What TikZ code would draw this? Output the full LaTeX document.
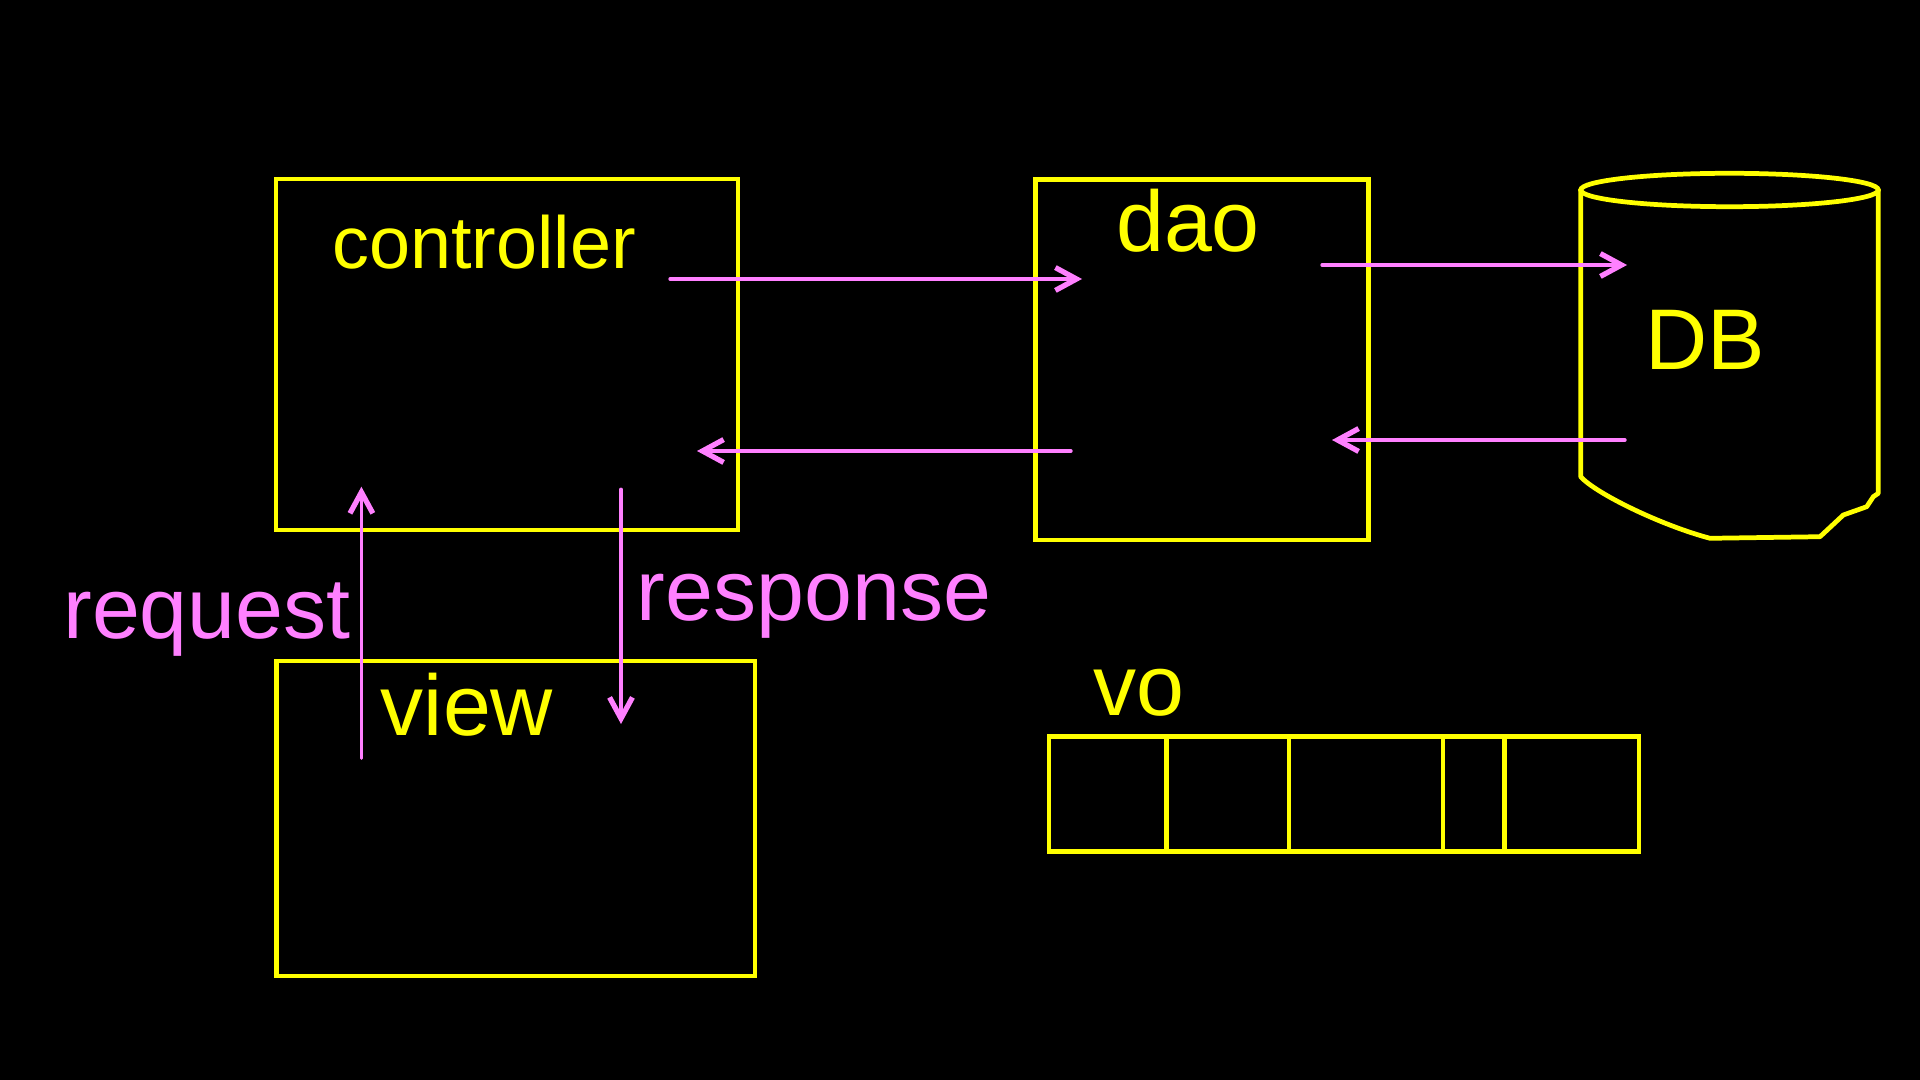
\documentclass[tikz,border=0pt]{standalone}
\usepackage{fontspec}
\setmainfont{Liberation Sans}
\usetikzlibrary{arrows.meta, positioning}
\definecolor{hlyellow}{RGB}{255,255,0}
\definecolor{hlpink}{RGB}{255,128,255}

\begin{document}
\begin{tikzpicture}[>={Straight Barb[length=6pt,width=6.5pt,line width=1.5pt]}, line cap=round]
 \tikzstyle{box} = [draw=hlyellow, line width=1.35pt, inner sep=0pt, outer sep=0pt]
 \tikzstyle{cell} = [box, minimum height=1.154cm]
 \tikzstyle{lbl} = [text=hlyellow, anchor=base, inner sep=0pt, font=\fontsize{24.5}{29}\selectfont]
 \tikzstyle{plbl} = [lbl, text=hlpink]
 \tikzstyle{flow} = [->, draw=hlpink, line width=0.95pt]
   \fill[black] (0,0) rectangle (19.2,-10.8);

   \node[box, minimum width=4.62cm, minimum height=3.51cm] (ctrl) at (5.07,-3.545) {};
   \node[box, minimum width=3.326cm, minimum height=3.607cm] (dao) at (12.02,-3.597) {};
   \node[box, minimum width=4.783cm, minimum height=3.15cm] (view) at (5.158,-8.185) {};

   % database drawn by hand, not a node shape
   \draw[box] (17.295,-1.90) ellipse [x radius=1.488, y radius=0.167];
   \draw[box, line join=round] (15.807,-1.90) -- (15.807,-4.767)
     .. controls (15.95,-4.93) and (16.6,-5.25) .. (17.10,-5.383)
     -- (18.20,-5.367) -- (18.433,-5.15) -- (18.667,-5.067)
     -- (18.733,-4.967) -- (18.783,-4.933) -- (18.783,-1.90);

   \node[cell, minimum width=1.173cm, anchor=north west] (vo1) at (10.49,-7.363) {};
   \node[cell, minimum width=1.227cm] (vo2) [right=0pt of vo1] {};
   \node[cell, minimum width=1.539cm] (vo3) [right=0pt of vo2] {};
   \node[cell, minimum width=0.618cm] (vo4) [right=0pt of vo3] {};
   \node[cell, minimum width=1.343cm] (vo5) [right=0pt of vo4] {};

   \node[lbl, font=\fontsize{21}{25}\selectfont] (ctrl-lbl) at (4.84,-2.683) {controller};
   \node[lbl] (dao-lbl) at (11.88,-2.517) {dao};
   \node[lbl] (db-lbl) at (17.05,-3.70) {DB};
   \node[lbl] (view-lbl) at (4.67,-7.35) {view};
   \node[lbl] (vo-lbl) at (11.39,-7.15) {vo};
   \node[plbl] (req-lbl) at (2.07,-6.383) {request};
   \node[plbl] (resp-lbl) at (8.14,-6.20) {response};

   % free ends of the arrows sit inside the boxes
   \coordinate (c-out) at (6.70,-2.79);
   \coordinate (d-in) at (10.82,-2.79);
   \coordinate (d-out) at (10.71,-4.51);
   \coordinate (c-in) at (6.97,-4.51);
   \coordinate (d-q) at (13.22,-2.65);
   \coordinate (db-in) at (16.27,-2.65);
   \coordinate (db-out) at (16.25,-4.40);
   \coordinate (d-r) at (13.32,-4.40);
   \coordinate (v-req) at (3.614,-7.583);
   \coordinate (c-req) at (3.614,-4.867);
   \coordinate (c-resp) at (6.21,-4.893);
   \coordinate (v-resp) at (6.21,-7.24);

 \path
	(c-out) edge[flow] (d-in)
	(d-out) edge[flow] (c-in)
	(d-q) edge[flow] (db-in)
	(db-out) edge[flow] (d-r)
	(v-req) edge[flow] (c-req)
	(c-resp) edge[flow] (v-resp);
\end{tikzpicture}
\end{document}
